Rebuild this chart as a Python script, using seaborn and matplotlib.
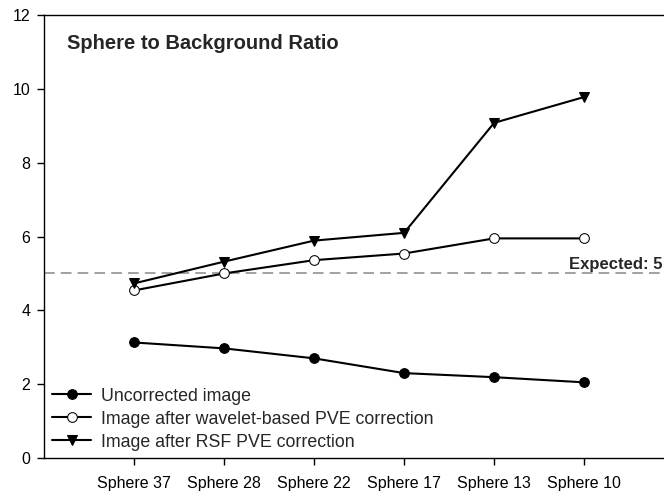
import matplotlib
matplotlib.use("Agg")
import matplotlib.pyplot as plt
import seaborn as sns

spheres = ["Sphere 37", "Sphere 28", "Sphere 22", "Sphere 17", "Sphere 13", "Sphere 10"]
uncorrected = [3.13, 2.97, 2.70, 2.30, 2.19, 2.05]
wavelet = [4.54, 5.00, 5.36, 5.54, 5.95, 5.95]
rsf = [4.73, 5.32, 5.89, 6.10, 9.08, 9.78]
expected = 5

sns.set_theme(style="white")
plt.rcParams['font.family'] = ['Liberation Sans', 'DejaVu Sans']

fig = plt.figure(figsize=(6.64, 4.96), dpi=100)
# right edge of the axes runs past the figure, like the reference
ax = fig.add_axes([0.0663, 0.0766, 0.949, 0.893])

xpos = list(range(len(spheres)))
sns.lineplot(x=xpos, y=uncorrected, ax=ax, color="black", lw=1.5, marker="o",
             markersize=7, markerfacecolor="black", markeredgecolor="black",
             label="Uncorrected image")
sns.lineplot(x=xpos, y=wavelet, ax=ax, color="black", lw=1.5, marker="o",
             markersize=7, markerfacecolor="white", markeredgecolor="black",
             label="Image after wavelet-based PVE correction")
sns.lineplot(x=xpos, y=rsf, ax=ax, color="black", lw=1.5, marker="v",
             markersize=7.5, markerfacecolor="black", markeredgecolor="black",
             label="Image after RSF PVE correction")

ax.axhline(expected, color="#888888", lw=1.1, ls=(0, (7, 4)), zorder=0)
ax.text(4.83, expected + 0.04, "Expected: 5", fontsize=12, fontweight="bold",
        ha="left", va="bottom")

ax.text(-0.744, 11.08, "Sphere to Background Ratio", fontsize=14.5, fontweight="bold",
        ha="left", va="baseline")

ax.set_xlim(-1, 6)
ax.set_ylim(0, 12)
ax.set_xticks(xpos)
ax.set_xticklabels(spheres)
ax.set_yticks([0, 2, 4, 6, 8, 10, 12])
ax.tick_params(axis="both", direction="out", length=5, width=1, color="black",
               bottom=True, left=True, labelsize=11.5, labelcolor="black")
ax.tick_params(axis="x", pad=8)
ax.tick_params(axis="y", pad=5)
for side in ["left", "bottom", "top"]:
    ax.spines[side].set_color("black")
    ax.spines[side].set_linewidth(1)
ax.spines["right"].set_visible(False)

ax.legend(loc="center left", bbox_to_anchor=(0.0127, 0.088), frameon=False, fontsize=12.75,
          handlelength=2.2, handletextpad=0.55, labelspacing=0.34, borderpad=0,
          borderaxespad=0)

fig.savefig("out.png", dpi=100)
